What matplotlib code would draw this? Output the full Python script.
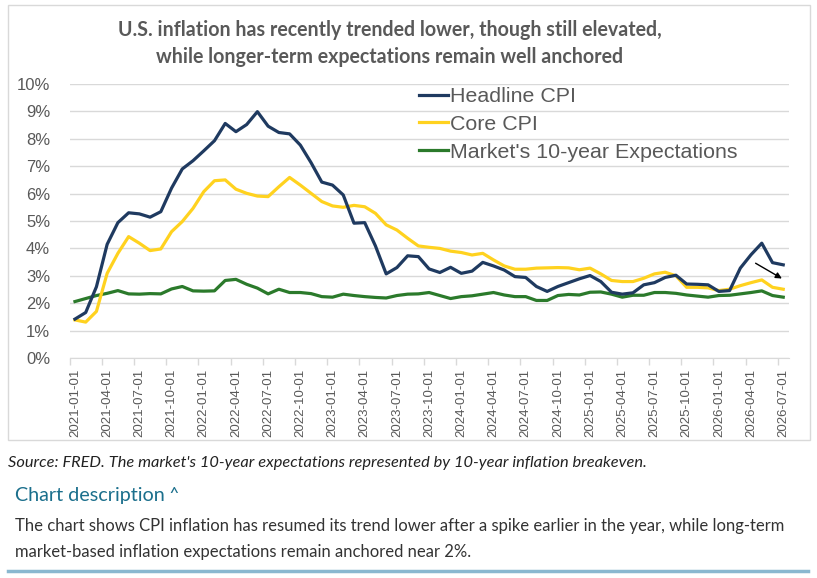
import numpy as np
import pandas as pd
import matplotlib
matplotlib.use("Agg")
import matplotlib.pyplot as plt
from matplotlib.patches import Rectangle
from matplotlib.lines import Line2D

# --- dados (% a/a) ---
months = pd.date_range("2021-01-01", "2026-07-01", freq="MS")

headline = [1.42, 1.66, 2.6, 4.15, 4.94, 5.3, 5.26, 5.14, 5.34, 6.2, 6.9, 7.2,
            7.56, 7.93, 8.56, 8.26, 8.52, 8.99, 8.46, 8.23, 8.18, 7.77, 7.13, 6.42,
            6.31, 5.95, 4.92, 4.94, 4.09, 3.07, 3.3, 3.73, 3.7, 3.25, 3.12, 3.31,
            3.09, 3.17, 3.49, 3.36, 3.21, 2.97, 2.94, 2.61, 2.43, 2.61, 2.75, 2.89,
            3.01, 2.79, 2.4, 2.33, 2.38, 2.67, 2.75, 2.94, 3.02, 2.7, 2.69, 2.67,
            2.43, 2.46, 3.28, 3.77, 4.19, 3.48, 3.4]

core = [1.39, 1.31, 1.70, 3.09, 3.82, 4.43, 4.19, 3.92, 3.98, 4.61, 4.98, 5.46,
        6.07, 6.47, 6.50, 6.16, 6.01, 5.91, 5.89, 6.25, 6.59, 6.31, 6.01, 5.71,
        5.55, 5.50, 5.57, 5.52, 5.28, 4.86, 4.67, 4.37, 4.09, 4.04, 4.0, 3.9,
        3.85, 3.76, 3.82, 3.58, 3.36, 3.24, 3.24, 3.28, 3.29, 3.30, 3.29, 3.22,
        3.28, 3.07, 2.83, 2.79, 2.79, 2.91, 3.07, 3.13, 3.0, 2.58, 2.58, 2.56,
        2.46, 2.51, 2.64, 2.75, 2.85, 2.58, 2.51]

breakeven = [2.06, 2.17, 2.28, 2.36, 2.46, 2.34, 2.33, 2.35, 2.34, 2.52, 2.61, 2.45,
             2.44, 2.45, 2.83, 2.87, 2.69, 2.55, 2.34, 2.51, 2.39, 2.39, 2.35, 2.24,
             2.22, 2.33, 2.28, 2.24, 2.21, 2.19, 2.28, 2.33, 2.34, 2.39, 2.28, 2.17,
             2.24, 2.27, 2.33, 2.39, 2.30, 2.24, 2.24, 2.10, 2.10, 2.28, 2.32, 2.30,
             2.40, 2.41, 2.33, 2.22, 2.29, 2.29, 2.39, 2.39, 2.36, 2.30, 2.26, 2.22,
             2.28, 2.29, 2.34, 2.39, 2.45, 2.28, 2.22]

series_labels = ["Headline CPI", "Core CPI", "Market's 10-year Expectations"]
yticks = list(range(0, 11))

# seta: (mês índice, %) início -> fim
arrow_start = (63.2, 3.51)
arrow_end = (66.1, 2.85)

TITLE = ("U.S. inflation has recently trended lower, though still elevated,\n"
         "while longer-term expectations remain well anchored")
SOURCE = "Source: FRED. The market's 10-year expectations represented by 10-year inflation breakeven."
DESC_HEAD = "Chart description \u02c4"
DESC = ("The chart shows CPI inflation has resumed its trend lower after a spike earlier in the year, while long-term\n"
        "market-based inflation expectations remain anchored near 2%.")

W, H = 817, 578
GRAY = "#595959"
BLUE = "#1f3a60"
YELLOW = "#ffd21f"
GREEN = "#2b7a2b"

fig = plt.figure(figsize=(W / 100, H / 100), dpi=100)
fig.patch.set_facecolor("white")

def fx(px):
    return px / W

def fy(py):
    return 1 - py / H

# caixa do gráfico
fig.patches.append(Rectangle((fx(8), fy(440)), fx(802), 435 / H, transform=fig.transFigure,
                             fill=False, edgecolor="#d9d9d9", linewidth=1.0))

ax = fig.add_axes([fx(69.6), fy(358), fx(788.6 - 69.6), (358 - 84) / H])
x = np.arange(len(months))

ax.plot(x, headline, color=BLUE, lw=2.3, solid_joinstyle="round", zorder=4)
ax.plot(x, core, color=YELLOW, lw=2.3, solid_joinstyle="round", zorder=3)
ax.plot(x, breakeven, color=GREEN, lw=2.3, solid_joinstyle="round", zorder=2)

ax.annotate("", xy=arrow_end, xytext=arrow_start,
            arrowprops=dict(arrowstyle="-|>", color="black", lw=1.0, mutation_scale=9))

ax.set_xlim(-0.5, len(months) - 0.5)
ax.set_ylim(0, 10)
ax.set_yticks(yticks)
ax.set_yticklabels([f"{v}%" for v in yticks], fontsize=12, color=GRAY, family="Liberation Sans")
ax.yaxis.grid(True, color="#d9d9d9", lw=1.0)
ax.set_axisbelow(True)
ax.tick_params(axis="y", length=0, pad=14)

lab_idx = x[::3]
ax.set_xticks(lab_idx)
ax.set_xticklabels([m.strftime("%Y-%m-%d") for m in months[::3]], rotation=90,
                   fontsize=9.5, color=GRAY, family="Liberation Sans")
ax.set_xticks(np.arange(-0.5, len(months), 3), minor=True)
ax.tick_params(axis="x", which="major", length=0, pad=8)
ax.tick_params(axis="x", which="minor", length=5, color="#d9d9d9", width=1)

for s in ["top", "right", "left"]:
    ax.spines[s].set_visible(False)
ax.spines["bottom"].set_color("#d9d9d9")

handles = [Line2D([], [], color=c, lw=2.3) for c in (BLUE, YELLOW, GREEN)]
fig.legend(handles, series_labels, loc="upper left", bbox_to_anchor=(fx(419), fy(87)),
           frameon=False, prop={"family": "Liberation Sans", "size": 15.4},
           labelcolor=GRAY, handlelength=1.35, handletextpad=0.1,
           labelspacing=0.42, borderpad=0, borderaxespad=0)

fig.text(fx(390), fy(43.5), TITLE, ha="center", va="center", fontsize=14.1,
         fontweight="bold", color=GRAY, family="Lato", linespacing=1.4)

fig.text(fx(8), fy(463), SOURCE, ha="left", va="center", fontsize=11.8, style="italic",
         color="#222222", family="Lato")
fig.text(fx(15), fy(495), DESC_HEAD, ha="left", va="center", fontsize=14.2,
         color="#1b6f8c", family=["Lato", "DejaVu Sans"])
fig.text(fx(15), fy(539), DESC, ha="left", va="center", fontsize=12.0,
         color="#333333", family="Lato", linespacing=1.7)

fig.add_artist(Line2D([fx(8), fx(808)], [fy(570.5), fy(570.5)], transform=fig.transFigure,
                      color="#8ab8d0", lw=2.5))

fig.savefig("out.png", dpi=100)
